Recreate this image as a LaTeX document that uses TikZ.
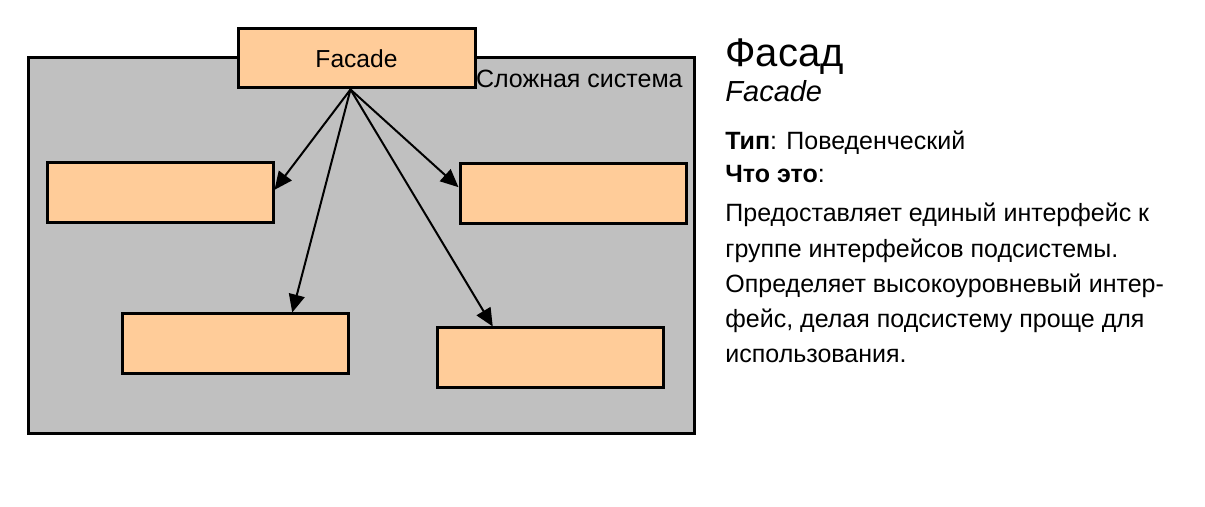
\documentclass[tikz,border=0pt]{standalone}
\usepackage{fontspec}
\setmainfont{Liberation Sans}
\usetikzlibrary{arrows.meta,calc}
\definecolor{sysgray}{HTML}{C0C0C0}
\definecolor{boxorange}{HTML}{FFCC99}
\tikzset{
  part/.style={draw=black, line width=1.5pt, fill=boxorange, minimum width=113pt, minimum height=30pt, inner sep=0pt},
  sysbox/.style={draw=black, line width=1.5pt, fill=sysgray, minimum width=333pt, minimum height=188pt, inner sep=0pt},
  link/.style={line width=1pt, -{Triangle[length=9pt,width=8pt]}},
  txt/.style={anchor=base west, inner sep=0pt, font=\fontsize{12.5}{15}\selectfont}
}
\begin{document}
\begin{tikzpicture}[x=0.5pt,y=-0.5pt]
\useasboundingbox (0,0) rectangle (1205,507);
\node[sysbox] (sys) at (361,246) {};
\node[anchor=base east, inner sep=0pt, font=\fontsize{12.5}{15}\selectfont] (syslabel) at (683,88) {Сложная система};
\node[part, minimum width=118.5pt, minimum height=29.5pt, font=\fontsize{12.3}{15}\selectfont] (facade) at (356.5,58.5) {Facade};
\node[part] (b1) at (160,193) {};
\node[part] (b2) at (573,193.5) {};
\node[part] (b3) at (235,344) {};
\node[part] (b4) at (550,358) {};
\coordinate (src) at ([xshift=-3pt]facade.south);
\draw[link] (src) -- ($(b1.north east)!0.45!(b1.south east)$);
\draw[link] (src) -- ($(b2.north west)!0.4!(b2.south west)$);
\draw[link] (src) -- ($(b3.north west)!0.75!(b3.north east)$);
\draw[link] (src) -- ($(b4.north west)!0.25!(b4.north east)$);
\node[anchor=base west, inner sep=0pt, font=\fontsize{20}{24}\selectfont] (title) at (725,67) {Фасад};
\node[anchor=base west, inner sep=0pt, font=\fontsize{14.5}{17}\selectfont\itshape] (sub) at (725,102) {Facade};
\node[txt] (l1) at (725,150) {\textbf{Тип}: Поведенческий};
\node[txt] (l2) at (725,183) {\textbf{Что это}:};
\node[txt] (l3) at (725,222) {Предоставляет единый интерфейс к};
\node[txt] (l4) at (725,258) {группе интерфейсов подсистемы.};
\node[txt] (l5) at (725,293) {Определяет высокоуровневый интер-};
\node[txt] (l6) at (725,328) {фейс, делая подсистему проще для};
\node[txt] (l7) at (725,363) {использования.};
\end{tikzpicture}
\end{document}
